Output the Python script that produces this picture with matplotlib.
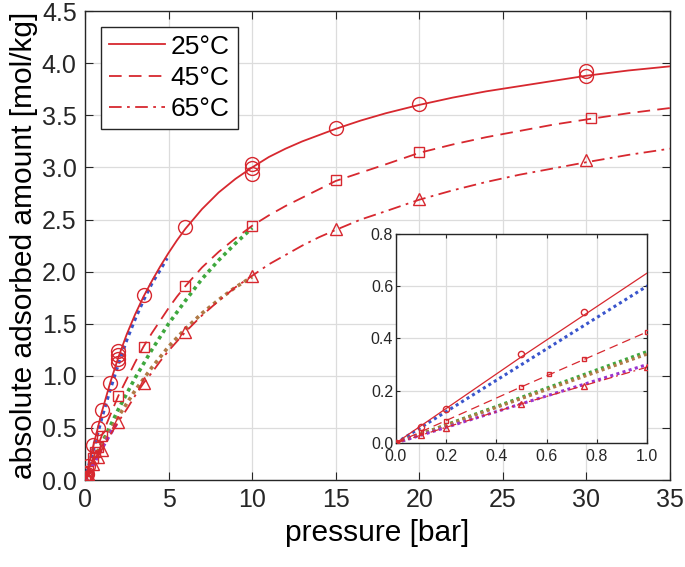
import matplotlib
matplotlib.use('Agg')
import matplotlib.pyplot as plt

plt.rcParams['font.family'] = ['Liberation Sans', 'DejaVu Sans']

red = '#d7282f'

# measured points
p25 = [0, 0.1, 0.2, 0.5, 0.75, 1.03, 1.5, 2, 2, 2, 2, 3.5, 6, 10, 10, 10, 15, 20, 30, 30]
q25 = [0, 0.06, 0.13, 0.34, 0.5, 0.67, 0.93, 1.12, 1.16, 1.2, 1.24, 1.78, 2.43, 2.94, 2.99, 3.03, 3.38, 3.61, 3.88, 3.93]
p45 = [0, 0.1, 0.2, 0.5, 0.61, 0.75, 1.0, 2, 3.5, 6, 10, 15, 20, 30.3]
q45 = [0, 0.043, 0.085, 0.215, 0.265, 0.32, 0.425, 0.81, 1.28, 1.86, 2.44, 2.88, 3.15, 3.47]
p65 = [0, 0.1, 0.2, 0.5, 0.75, 1.0, 2, 3.5, 6, 10, 15, 20, 30]
q65 = [0, 0.03, 0.058, 0.15, 0.22, 0.29, 0.56, 0.93, 1.42, 1.96, 2.41, 2.70, 3.07]

# fitted isotherms
pc = [0, 0.5, 1, 1.5, 2, 2.5, 3, 3.5, 4, 4.5, 5, 5.5, 6, 7, 8, 9, 10, 11, 12, 13, 14,
      15, 16.5, 18, 20, 22, 24, 26, 28, 30, 32.5, 35]
c25 = [0, 0.33, 0.65, 0.93, 1.18, 1.40, 1.59, 1.76, 1.91, 2.05, 2.18, 2.30, 2.41, 2.60,
       2.76, 2.89, 3.00, 3.10, 3.18, 3.25, 3.31, 3.37, 3.45, 3.52, 3.60, 3.67, 3.73,
       3.78, 3.83, 3.88, 3.93, 3.97]
c45 = [0, 0.215, 0.425, 0.62, 0.81, 0.97, 1.13, 1.28, 1.41, 1.53, 1.65, 1.76, 1.86, 2.04,
       2.19, 2.32, 2.44, 2.54, 2.63, 2.71, 2.79, 2.87, 2.95, 3.03, 3.14, 3.22, 3.29,
       3.35, 3.41, 3.46, 3.52, 3.57]
c65 = [0, 0.15, 0.29, 0.43, 0.56, 0.68, 0.81, 0.93, 1.03, 1.14, 1.24, 1.33, 1.42, 1.58,
       1.72, 1.85, 1.96, 2.07, 2.16, 2.25, 2.33, 2.40, 2.50, 2.58, 2.69, 2.78, 2.86,
       2.93, 2.99, 3.05, 3.12, 3.18]

# dotted model lines
pb = [0, 0.5, 1, 1.5, 2, 2.5, 3, 3.5, 4, 4.5, 4.9]
qb = [0, 0.3, 0.6, 0.87, 1.12, 1.35, 1.55, 1.73, 1.89, 2.02, 2.13]
pg = [0, 1, 2, 3, 4, 5, 6, 7, 8, 9, 10]
qg = [0, 0.35, 0.68, 0.98, 1.25, 1.5, 1.72, 1.93, 2.11, 2.27, 2.42]
qbr = [0, 0.34, 0.61, 0.86, 1.08, 1.28, 1.45, 1.6, 1.73, 1.85, 1.95]
pp = [0, 0.5, 1, 1.5, 2]
qp = [0, 0.15, 0.3, 0.44, 0.57]

fig = plt.figure(figsize=(6.85, 5.67), dpi=100)
ax = fig.add_axes([0.1241, 0.1534, 0.854, 0.827])
ins = fig.add_axes([0.578, 0.2187, 0.3664, 0.3686])


def draw(a, lw, ms, dlw):
    a.plot(pb, qb, color='#3a55cc', lw=dlw, dashes=(1, 1.1), zorder=3)
    a.plot(pg, qg, color='#3ea83e', lw=dlw, dashes=(1, 1.1), zorder=3)
    a.plot(pg, qbr, color='#b07a45', lw=dlw, dashes=(1, 1.1), zorder=3)
    a.plot(pp, qp, color='#9a35d0', lw=dlw, dashes=(1, 1.1), zorder=3)
    a.plot(pc, c25, color=red, lw=lw, label='25°C', zorder=4)
    a.plot(pc, c45, color=red, lw=lw, dashes=(7, 4), label='45°C', zorder=4)
    a.plot(pc, c65, color=red, lw=lw, dashes=(7, 3, 1.5, 3), label='65°C', zorder=4)
    a.plot(p25, q25, 'o', mfc='none', mec=red, ms=ms, mew=1.0, zorder=5)
    a.plot(p45, q45, 's', mfc='none', mec=red, ms=ms * 0.75, mew=1.0, zorder=5)
    a.plot(p65, q65, '^', mfc='none', mec=red, ms=ms * 0.9, mew=1.0, zorder=5)


draw(ax, 1.3, 10, 2.6)
draw(ins, 0.9, 4.5, 2.2)

for a in (ax, ins):
    a.grid(True, color='#dcdcdc', lw=0.9)
    a.set_axisbelow(True)
    a.tick_params(direction='in', top=True, right=True, colors='#262626')
    for s in a.spines.values():
        s.set_color('#262626')
        s.set_linewidth(1.0)

ax.set_xlim(0, 35)
ax.set_ylim(0, 4.5)
ax.set_xticks(range(0, 36, 5))
ax.set_yticks([i * 0.5 for i in range(10)])
ax.set_yticklabels([f'{i * 0.5:.1f}' for i in range(10)])
ax.tick_params(labelsize=18, length=6, pad=6)
ax.set_xlabel('pressure [bar]', fontsize=21.5, labelpad=5)
ax.set_ylabel('absolute adsorbed amount [mol/kg]', fontsize=21.5, labelpad=3)

leg = ax.legend(loc='upper left', bbox_to_anchor=(0.027, 0.967), fontsize=19,
                handlelength=2.15, handletextpad=0.2, borderpad=0.3,
                labelspacing=0.28, fancybox=False, framealpha=1,
                edgecolor='#262626', borderaxespad=0)
leg.get_frame().set_linewidth(1.0)

ins.set_xlim(0, 1)
ins.set_ylim(0, 0.8)
ins.set_xticks([0, 0.2, 0.4, 0.6, 0.8, 1.0])
ins.set_xticklabels(['0.0', '0.2', '0.4', '0.6', '0.8', '1.0'])
ins.set_yticks([0, 0.2, 0.4, 0.6, 0.8])
ins.set_yticklabels(['0.0', '0.2', '0.4', '0.6', '0.8'])
ins.tick_params(labelsize=11.5, length=3)
ins.tick_params(axis='x', pad=4)
ins.tick_params(axis='y', pad=2)

fig.savefig('out.png', dpi=100)
